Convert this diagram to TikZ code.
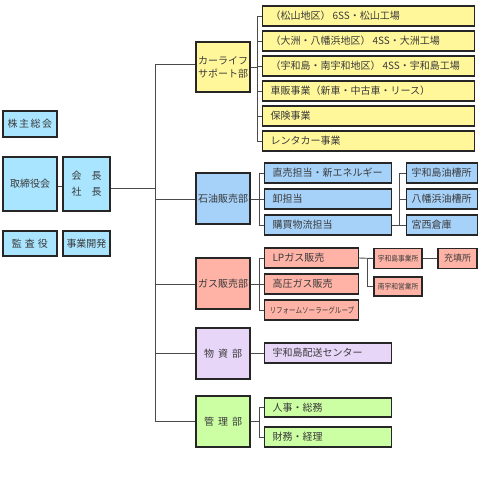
\documentclass[tikz,border=0pt]{standalone}
\usepackage{fontspec}
\setmainfont{Noto Sans CJK JP}
\definecolor{cy}{HTML}{A9E5FF}
\definecolor{yl}{HTML}{FFF799}
\definecolor{bl}{HTML}{A6D2FA}
\definecolor{pk}{HTML}{FFB3A6}
\definecolor{lv}{HTML}{E8D6F8}
\definecolor{gr}{HTML}{CCFFA3}
\definecolor{ln}{HTML}{4A4A4A}
\definecolor{tx}{HTML}{3A3A3A}
\tikzset{
  bx/.style={draw=black!85, line width=1.1pt, inner sep=0pt, text=tx, align=center},
  item/.style={bx, anchor=west, align=left, text width=#1, inner xsep=8pt, minimum height=20pt},
  sm/.style={font=\fontsize{7.5pt}{9pt}\selectfont},
  conn/.style={draw=ln, line width=0.9pt},
}
\begin{document}
\begin{tikzpicture}[x=1pt,y=-1pt, font=\fontsize{10pt}{13pt}\selectfont]
\useasboundingbox[fill=white] (0,0) rectangle (490,504);
% left group
\node[bx, fill=cy, minimum width=54pt, minimum height=26pt] (kabu) at (30,124) {株\hspace{1.5pt}主\hspace{1.5pt}総\hspace{1.5pt}会};
\node[bx, fill=cy, minimum width=54pt, minimum height=54pt] (tori) at (30,184) {取締役会};
\node[bx, fill=cy, minimum width=47pt, minimum height=54pt] (kai) at (86.5,184) {会\hspace{10pt}長\\[3pt]社\hspace{10pt}長};
\node[bx, fill=cy, minimum width=54pt, minimum height=25pt] (kansa) at (30,243.5) {監\hspace{3pt}査\hspace{3pt}役};
\node[bx, fill=cy, minimum width=47pt, minimum height=25pt] (jigyo) at (86.5,243.5) {事業開発};
% trunk
\coordinate (ttop) at (155,64);
\coordinate (tbot) at (155,421);
\coordinate (tkai) at (155,188);
% departments
\node[bx, fill=yl, minimum width=54pt, minimum height=50pt] (car) at (223,67) {カーライフ\\サポート部};
\node[bx, fill=bl, minimum width=54pt, minimum height=51pt] (seki) at (223,198.5) {石油販売部};
\node[bx, fill=pk, minimum width=54pt, minimum height=51pt] (gas) at (223,283.5) {ガス販売部};
\node[bx, fill=lv, minimum width=54pt, minimum height=51pt] (bus) at (223,353.5) {物\hspace{4pt}資\hspace{4pt}部};
\node[bx, fill=gr, minimum width=54pt, minimum height=51pt] (kan) at (223,421.5) {管\hspace{4pt}理\hspace{4pt}部};
% car items
\node[item=196pt, fill=yl] (c1) at (262,16) {（松山地区）\hspace{2pt}6SS・松山工場};
\node[item=196pt, fill=yl] (c2) at (262,41) {（大洲・八幡浜地区）\hspace{2pt}4SS・大洲工場};
\node[item=196pt, fill=yl] (c3) at (262,66) {（宇和島・南宇和地区）\hspace{2pt}4SS・宇和島工場};
\node[item=196pt, fill=yl] (c4) at (262,91) {車販事業（新車・中古車・リース）};
\node[item=196pt, fill=yl] (c5) at (262,116) {保険事業};
\node[item=196pt, fill=yl] (c6) at (262,141) {レンタカー事業};
% sekiyu items
\node[item=111pt, fill=bl] (s1) at (264,173) {直売担当・新エネルギー};
\node[item=111pt, fill=bl] (s2) at (264,199) {卸担当};
\node[item=111pt, fill=bl] (s3) at (264,225) {購買物流担当};
\node[item=61pt, inner xsep=5pt, fill=bl] (d1) at (406,173) {宇和島油槽所};
\node[item=61pt, inner xsep=5pt, fill=bl] (d2) at (406,199) {八幡浜油槽所};
\node[item=61pt, inner xsep=5pt, fill=bl] (d3) at (406,225) {宮西倉庫};
% gas items
\node[item=78pt, fill=pk] (g1) at (264,258) {LPガス販売};
\node[item=78pt, fill=pk] (g2) at (264,284) {高圧ガス販売};
\node[item=78pt, fill=pk, inner xsep=5pt, text width=84pt] (g3) at (264,310) {\scalebox{0.82}[1]{\fontsize{8pt}{9pt}\selectfont リフォームソーラーグループ}};
\node[bx, fill=pk, sm, minimum width=48pt, minimum height=20pt] (e1) at (398,258.5) {\scalebox{0.9}[1]{宇和島事業所}};
\node[bx, fill=pk, sm, minimum width=48pt, minimum height=19pt] (e2) at (398,286.5) {\scalebox{0.9}[1]{南宇和営業所}};
\node[bx, fill=pk, font=\fontsize{9pt}{10pt}\selectfont, minimum width=39pt, minimum height=20pt] (e3) at (457.5,258.5) {充填所};
% busshi
\node[item=111pt, fill=lv] (b1) at (264,353) {宇和島配送センター};
% kanri
\node[item=111pt, fill=gr, minimum height=19pt] (k1) at (264,407.5) {人事・総務};
\node[item=111pt, fill=gr] (k2) at (264,437) {財務・経理};
% connectors
\draw[conn] (tori.east |- 0,186) -- (kai.west |- 0,186);
\draw[conn] (kai.east |- tkai) -- (tkai);
\draw[conn] (ttop) -- (tbot);
\draw[conn] (ttop) -- (ttop -| car.west);
\draw[conn] (155,199) -- (seki.west |- 0,199);
\draw[conn] (155,284) -- (gas.west |- 0,284);
\draw[conn] (155,353) -- (bus.west |- 0,353);
\draw[conn] (tbot) -- (kan.west |- tbot);
% car branch
\coordinate (cb) at (257,67);
\draw[conn] (car.east |- cb) -- (cb);
\draw[conn] (257,16) -- (257,141);
\foreach \n in {c1,c2,c3,c4,c5,c6} \draw[conn] (257,0 |- \n.west) -- (\n.west);
% sekiyu branch
\draw[conn] (seki.east |- 0,199) -- (259,199);
\draw[conn] (259,173) -- (259,225);
\foreach \n in {s1,s2,s3} \draw[conn] (259,0 |- \n.west) -- (\n.west);
\draw[conn] (s3.east) -- (399,225);
\draw[conn] (399,173) -- (399,225);
\foreach \n in {d1,d2,d3} \draw[conn] (399,0 |- \n.west) -- (\n.west);
% gas branch
\draw[conn] (gas.east |- 0,284) -- (259,284);
\draw[conn] (259,258) -- (259,310);
\foreach \n in {g1,g2,g3} \draw[conn] (259,0 |- \n.west) -- (\n.west);
\draw[conn] (g1.east) -- (e1.west);
\draw[conn] (367,258.5) -- (367,286.5) -- (e2.west);
\draw[conn] (e1.east) -- (e3.west);
% busshi
\draw[conn] (bus.east |- b1.west) -- (b1.west);
% kanri
\draw[conn] (kan.east |- 0,421) -- (259,421);
\draw[conn] (259,407.5) -- (259,437);
\foreach \n in {k1,k2} \draw[conn] (259,0 |- \n.west) -- (\n.west);
\end{tikzpicture}
\end{document}
